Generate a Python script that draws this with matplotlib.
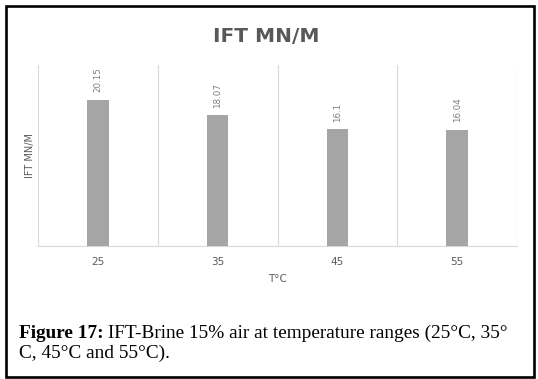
import numpy as np
import matplotlib.pyplot as plt
from matplotlib.patches import Rectangle

# datos
temperaturas = ["25", "35", "45", "55"]
ift = [20.15, 18.07, 16.1, 16.04]
etiquetas = ["20.15", "18.07", "16.1", "16.04"]

W, H = 538, 379
fig = plt.figure(figsize=(W / 100, H / 100), dpi=100)

# area del grafico (en pixeles del original)
ax = fig.add_axes([38 / W, 1 - 246 / H, (517 - 38) / W, 181 / H])
x = np.arange(len(temperaturas))
barras = ax.bar(x, ift, width=0.18, color="#a5a5a5", zorder=3)

for b, txt in zip(barras, etiquetas):
    ax.annotate(txt, (b.get_x() + b.get_width() / 2, b.get_height()),
                xytext=(0, 5.5), textcoords="offset points",
                rotation=90, ha="center", va="bottom",
                fontsize=6.3, color="#7f7f7f")

ax.set_xlim(-0.5, len(temperaturas) - 0.5)
ax.set_ylim(0, 25)
ax.set_xticks(x)
ax.set_xticklabels(temperaturas, fontsize=7.5, color="#595959")
ax.set_xticks(np.arange(-0.5, len(temperaturas)), minor=True)
ax.tick_params(axis="x", which="both", length=0, pad=8)
ax.set_yticks([])
ax.grid(which="minor", axis="x", color="#d9d9d9", linewidth=0.8, zorder=0)
for s in ["top", "left", "right"]:
    ax.spines[s].set_visible(False)
ax.spines["bottom"].set_color("#d9d9d9")
ax.spines["bottom"].set_linewidth(0.8)

ax.set_xlabel("T°C", fontsize=7.5, color="#595959", labelpad=5)
fig.text(30 / W, 1 - 155 / H, "IFT MN/M", rotation=90, ha="center", va="center",
         fontsize=7, color="#595959")

fig.text(266 / W, 1 - 37 / H, "IFT MN/M", ha="center", va="center",
         fontsize=14.5, fontweight="bold", color="#595959")

# pie de figura
t1 = fig.text(19 / W, 1 - 333 / H, "Figure 17:", ha="left", va="center",
              fontsize=13.9, fontweight="bold", family="Liberation Serif")
fig.canvas.draw()
bb = t1.get_window_extent()
fig.text((bb.x1 + 4) / W, 1 - 333 / H, "IFT-Brine 15% air at temperature ranges (25°C, 35°",
         ha="left", va="center", fontsize=13.9, family="Liberation Serif")
fig.text(19 / W, 1 - 353 / H, "C, 45°C and 55°C).", ha="left", va="center",
         fontsize=13.9, family="Liberation Serif")

# marco negro
fig.patches.append(Rectangle((5.5 / W, 1 - 376.5 / H), 528.5 / W, 371 / H,
                             transform=fig.transFigure, fill=False,
                             edgecolor="black", linewidth=1.9))

fig.savefig("out.png", dpi=100)
